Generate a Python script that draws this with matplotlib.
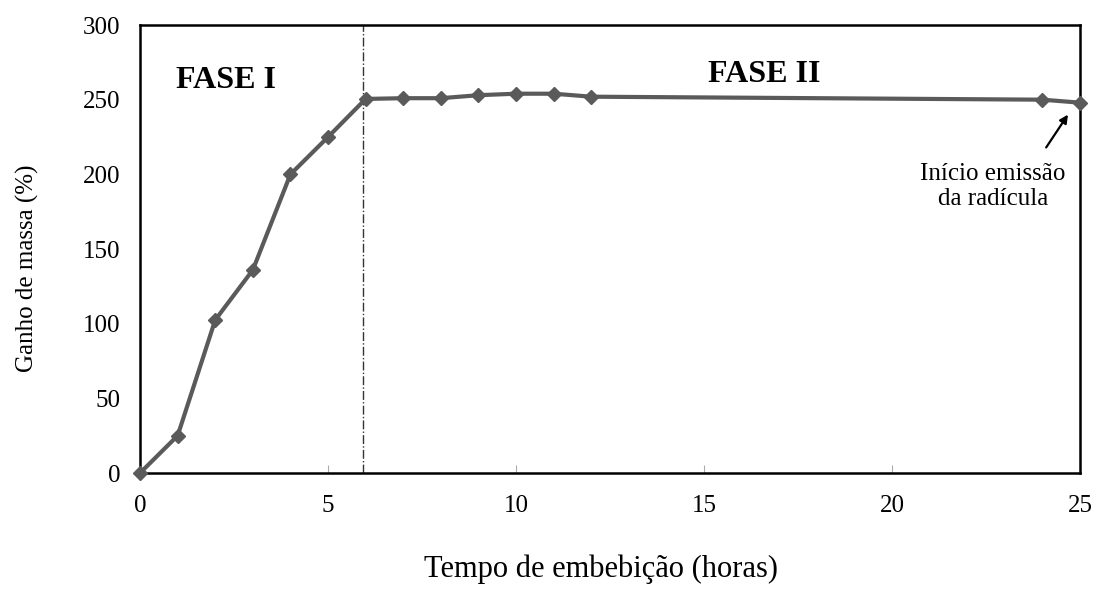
import matplotlib.pyplot as plt

# imbibition time (hours) and mass gain (%)
tempo = [0, 1, 2, 3, 4, 5, 6, 7, 8, 9, 10, 11, 12, 24, 25]
ganho = [0, 25, 102.5, 136, 200, 225, 250.5, 251, 251, 253, 254, 254, 252, 250, 248]

x_ticks = [0, 5, 10, 15, 20, 25]
y_ticks = [0, 50, 100, 150, 200, 250, 300]
limite_fase = 5.92

plt.rcParams['font.family'] = ['Liberation Serif', 'DejaVu Serif']

fig = plt.figure(figsize=(10.95, 5.9), dpi=100)
ax = fig.add_axes([0.1279, 0.1983, 0.8584, 0.7593])

ax.plot(tempo, ganho, color='#5a5a5a', linewidth=3, marker='D', markersize=7,
        clip_on=False, zorder=3)

# phase boundary
ax.axvline(limite_fase, color='#333333', linestyle='-.', linewidth=1)

ax.set_xlim(0, 25)
ax.set_ylim(0, 300)
ax.set_xticks(x_ticks)
ax.set_yticks(y_ticks)
ax.tick_params(axis='x', direction='in', length=6, width=0.8, color='#aaaaaa',
               labelsize=18, pad=16)
ax.tick_params(axis='y', length=0, labelsize=18, pad=14)
for s in ax.spines.values():
    s.set_linewidth(1.8)

ax.set_xlabel('Tempo de embebição (horas)', fontsize=22, labelpad=27)
ax.set_ylabel('Ganho de massa (%)', fontsize=18, labelpad=32)
ax.xaxis.label.set_x(0.4904)
ax.yaxis.label.set_y(0.4576)

ax.text(0.95, 263, 'FASE I', fontsize=23, fontweight='bold', ha='left', va='center')
ax.text(16.6, 267, 'FASE II', fontsize=23, fontweight='bold', ha='center', va='center')

# radicle emission note
ax.text(22.69, 192, 'Início emissão\nda radícula', fontsize=18, ha='center', va='center',
        linespacing=1.2)
ax.annotate('', xy=(24.68, 240), xytext=(24.1, 218),
            arrowprops=dict(arrowstyle='-|>', color='black', lw=1.6,
                            shrinkA=0, shrinkB=0, mutation_scale=12))

fig.savefig('out.png', dpi=100)
